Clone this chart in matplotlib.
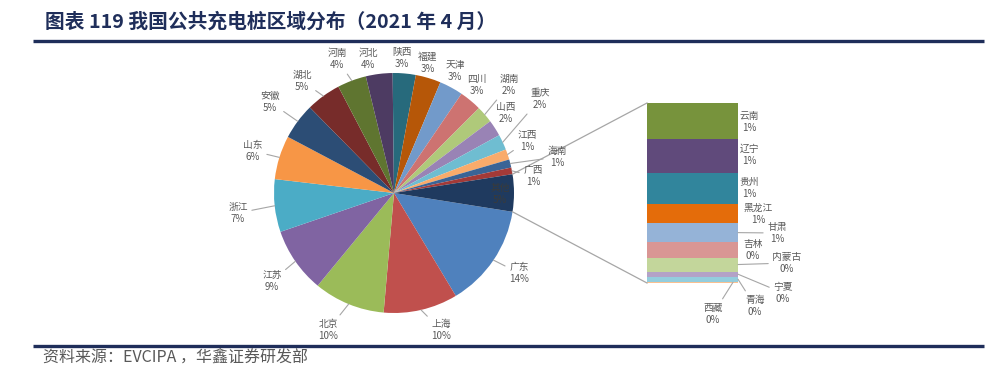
import matplotlib.pyplot as plt
import numpy as np

plt.rcParams['font.family'] = ['Noto Sans CJK SC', 'DejaVu Sans']

# main pie: provinces (clockwise from the "other" slice) and their shares (%)
provinces = ['广东', '上海', '北京', '江苏', '浙江', '山东', '安徽', '湖北', '河南', '河北',
             '陕西', '福建', '天津', '四川', '湖南', '山西', '重庆', '江西', '海南', '广西']
shares = [13.9, 10.0, 9.6, 8.8, 7.1, 5.9, 4.9, 4.7, 3.9, 3.6,
          3.1, 3.4, 3.2, 3.0, 2.3, 2.2, 2.1, 1.4, 1.1, 0.9]
other_label = '其他'

# secondary bar: the provinces grouped into "other"
other_names = ['云南', '辽宁', '贵州', '黑龙江', '甘肃', '吉林', '内蒙古', '宁夏', '青海', '西藏']
other_shares = [1.0, 0.95, 0.86, 0.55, 0.51, 0.44, 0.39, 0.15, 0.13, 0.04]

pie_colors = ['#4F81BD', '#C0504D', '#9BBB59', '#8064A2', '#4BACC6', '#F79646',
              '#2C4D75', '#772C2A', '#5F7530', '#4D3B62', '#276A7C', '#B65708',
              '#729ACA', '#CD7371', '#AFC97A', '#9983B5', '#6FBDD1', '#F9AB6B',
              '#3A6496', '#A33A38', '#1F3A5F']
bar_colors = ['#77933C', '#604A7B', '#31859C', '#E46C0A', '#95B3D7',
              '#D99694', '#C3D69B', '#B3A2C7', '#93CDDD', '#FAC090']

W, H = 1000, 377
fig = plt.figure(figsize=(10, 3.77), dpi=100)
ax = fig.add_axes([0, 0, 1, 1])

def py(y):
    # pixel row from the top -> data y
    return H - y

# label layout (pixel centres of the two-line labels)
pie_label_pos = {
    '广东': (519, 273), '上海': (441, 330), '北京': (328, 330), '江苏': (272, 281),
    '浙江': (238, 213), '山东': (253, 151), '安徽': (270, 102), '湖北': (302, 81),
    '河南': (337, 59), '河北': (368, 59), '陕西': (402, 58), '福建': (428, 63),
    '天津': (455, 71), '四川': (477, 85), '湖南': (509, 85), '山西': (506, 113),
    '重庆': (540, 99), '江西': (527, 141), '海南': (557, 157), '广西': (533, 176),
    '其他': (500, 194),
}
pie_leaders = ['广东', '上海', '北京', '江苏', '浙江', '山东', '安徽', '湖北', '河南',
               '湖南', '重庆', '江西', '海南', '广西']
bar_label_pos = {
    '云南': (749, 122), '辽宁': (749, 155), '贵州': (749, 188), '黑龙江': (758, 214),
    '甘肃': (777, 233), '吉林': (753, 250), '内蒙古': (787, 263), '宁夏': (783, 293),
    '青海': (755, 306), '西藏': (713, 314),
}
bar_leaders = ['甘肃', '内蒙古', '宁夏', '青海', '西藏']

label_color = '#595959'
line_color = '#A6A6A6'
fs = 7

# ---- pie ----
cx, cy, r = 394, py(193), 120
vals = shares + [sum(other_shares)]
names = provinces + [other_label]
total = sum(vals)
other_ang = 360 * vals[-1] / total
wedges, _ = ax.pie(vals, colors=pie_colors, startangle=-other_ang / 2, counterclock=False,
                   center=(cx, cy), radius=r, frame=True,
                   wedgeprops=dict(linewidth=0))

for name, v, w in zip(names, vals, wedges):
    lx, ly = pie_label_pos[name]
    txt = f'{name}\n{v / total * 100:.0f}%'
    col = '#3A3A3A' if name == other_label else label_color
    if name in pie_leaders:
        mid = np.deg2rad((w.theta1 + w.theta2) / 2)
        ax.annotate(txt, xy=(cx + r * np.cos(mid), cy + r * np.sin(mid)), xytext=(lx, py(ly)),
                    ha='center', va='center', fontsize=fs, color=col, linespacing=1.3,
                    arrowprops=dict(arrowstyle='-', color=line_color, lw=0.8,
                                    shrinkA=1, shrinkB=0))
    else:
        ax.text(lx, py(ly), txt, ha='center', va='center', fontsize=fs, color=col,
                linespacing=1.3)

# ---- secondary bar ----
bar_top, bar_bot = py(103), py(283)
bar_x, bar_w = 692.5, 91
scale = (bar_top - bar_bot) / sum(other_shares)
cum = 0
for name, v, c in zip(other_names, other_shares, bar_colors):
    h = v * scale
    b = bar_top - cum - h
    ax.bar(bar_x, h, width=bar_w, bottom=b, color=c, linewidth=0)
    lx, ly = bar_label_pos[name]
    txt = f'{name}\n{v / total * 100:.0f}%'
    if name in bar_leaders:
        ex = bar_x + bar_w / 2 if name != '西藏' else bar_x + bar_w / 2 - 5
        ax.annotate(txt, xy=(ex, b + h / 2), xytext=(lx, py(ly)),
                    ha='center', va='center', fontsize=fs, color=label_color, linespacing=1.3,
                    arrowprops=dict(arrowstyle='-', color=line_color, lw=0.8,
                                    shrinkA=1, shrinkB=0))
    else:
        ax.text(lx, py(ly), txt, ha='center', va='center', fontsize=fs, color=label_color,
                linespacing=1.3)
    cum += h

# connector lines between pie and bar
for ang, yb in [(other_ang / 2, bar_top), (-other_ang / 2, bar_bot)]:
    a = np.deg2rad(ang)
    ax.plot([cx + r * np.cos(a), bar_x - bar_w / 2], [cy + r * np.sin(a), yb],
            color=line_color, lw=0.9)

# ---- title, rules, source ----
navy = '#1F2E5A'
ax.text(45, py(22), '图表 119 我国公共充电桩区域分布（2021 年 4 月）', ha='left', va='center',
        fontsize=14.2, fontweight='bold', color=navy)
ax.plot([33, 984], [py(41), py(41)], color=navy, lw=2.4, solid_capstyle='butt')
ax.plot([33, 984], [py(346), py(346)], color=navy, lw=2.4, solid_capstyle='butt')
ax.text(43, py(358), '资料来源：EVCIPA ，华鑫证券研发部', ha='left', va='center',
        fontsize=11.5, color=label_color)

ax.set_xlim(0, W)
ax.set_ylim(0, H)
ax.set_aspect('auto')
ax.axis('off')

fig.savefig('out.png', dpi=100)
